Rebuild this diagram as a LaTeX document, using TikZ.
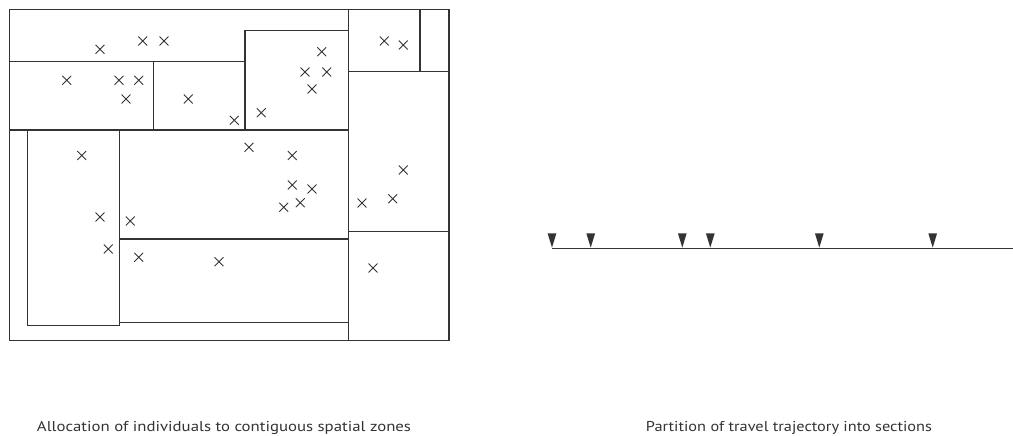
\documentclass[tikz,border=0pt]{standalone}
\usepackage{graphicx}
\usepackage{fontspec}
\setmainfont{PT Sans}
\usetikzlibrary{shapes.misc}
\definecolor{ink}{HTML}{333333}
\tikzset{
  zone/.style={draw=ink, line width=1.3pt},
  xmark/.style={cross out, draw=ink, line width=0.9pt, minimum size=8pt, inner sep=0pt},
  stopmark/.style={fill=ink, draw=none},
  track/.style={draw=ink, line width=1.3pt},
  caption/.style={font=\fontsize{14.3}{16}\selectfont, text=ink, anchor=base, inner sep=0pt}
}
\begin{document}
\begin{tikzpicture}[x=1pt, y=-1pt]
\useasboundingbox (0,0) rectangle (1013,436);
% zones
\draw[zone] (9.5,9.5) rectangle (449,340.7);
\draw[zone] (348.7,9.5) -- (348.7,340.7);
\draw[zone] (420,9.5) -- (420,71.7);
\draw[zone] (348.7,71.7) -- (449,71.7);
\draw[zone] (348.7,231.7) -- (449,231.7);
\draw[zone] (9.5,61.7) -- (245,61.7);
\draw[zone] (245,30.7) rectangle (348.7,130);
\draw[zone] (153.3,61.7) -- (153.3,130);
\draw[zone] (9.5,130) -- (348.7,130);
\draw[zone] (27.7,130) rectangle (119.3,325.7);
\draw[zone] (119.3,239) -- (348.7,239);
\draw[zone] (119.3,322.3) -- (348.7,322.3);
% individuals
\foreach \px/\py [count=\i] in {100/49.3, 142.7/41, 164/41, 321.7/51.7, 384.3/41, 403.3/45,
  66.7/80.3, 119/80.3, 138.7/80.3, 126/99, 188.3/99, 234.3/120.3, 305/72, 326.7/72, 312/89,
  261.3/112.7, 249/147.3, 292.3/155.5, 81.7/155.5, 403.3/170, 292.3/185, 312/189, 362/203,
  392.7/198.7, 283.7/207.3, 300.3/202.7, 100/217, 130.3/221, 108.3/249, 138.7/257.3,
  219/261.7, 373/268}
  \node[xmark] (p\i) at (\px,\py) {};
% trajectory
\coordinate (t0) at (552,248.3);
\coordinate (t1) at (1012.7,248.3);
\draw[track] (t0) -- (t1);
\foreach \sx [count=\j] in {552, 590.7, 682.3, 710.3, 819.3, 932.7}
  \path[stopmark] (\sx-4.4,233.3) -- (\sx+4.4,233.3) -- (\sx,247.6) -- cycle;
% captions
\node[caption] (capL) at (224,431) {\resizebox{374pt}{\height}{Allocation of individuals to contiguous spatial zones}};
\node[caption] (capR) at (789,431) {\resizebox{286pt}{\height}{Partition of travel trajectory into sections}};
\end{tikzpicture}
\end{document}
